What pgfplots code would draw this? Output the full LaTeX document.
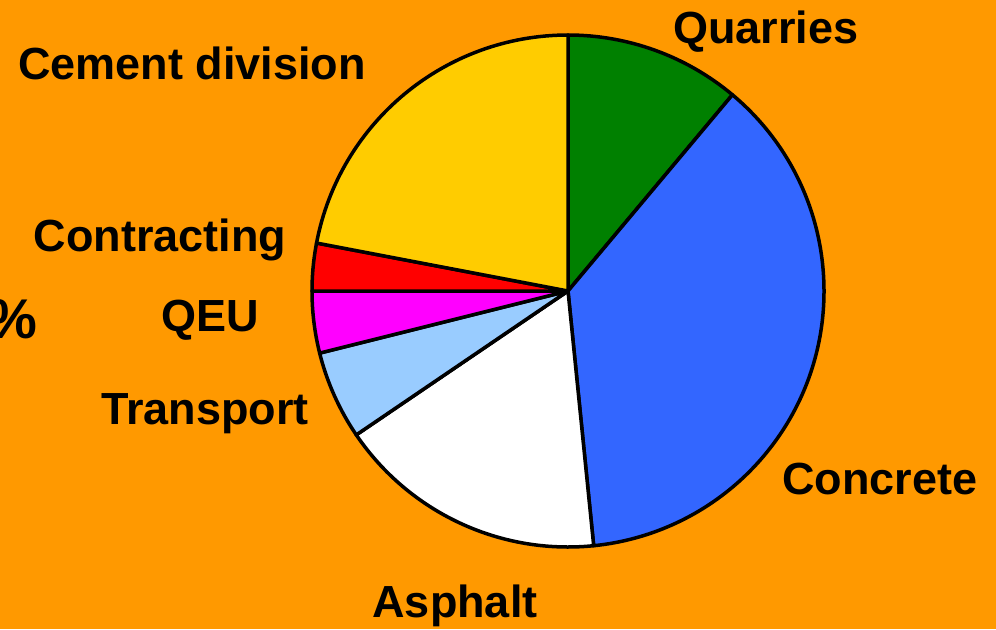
\documentclass[border=0pt]{standalone}
\usepackage{pgfplots}
\pgfplotsset{compat=1.18}
\usepackage{pgfplotstable}
\usepackage{fontspec}
\setmainfont{Liberation Sans}
\definecolor{bgor}{HTML}{FF9900}
\definecolor{cQ}{HTML}{008000}
\definecolor{cC}{HTML}{3366FF}
\definecolor{cA}{HTML}{FFFFFF}
\definecolor{cT}{HTML}{99CCFF}
\definecolor{cU}{HTML}{FF00FF}
\definecolor{cK}{HTML}{FF0000}
\definecolor{cD}{HTML}{FFCC00}
\pgfplotstableread{
name value color
Quarries 11.1 cQ
Concrete 37.3 cC
Asphalt 17.1 cA
Transport 5.6 cT
QEU 3.9 cU
Contracting 3.0 cK
Cement 22.0 cD
}\piedata
\begin{document}
\begin{tikzpicture}
\useasboundingbox (0,0) rectangle (498pt,314.5pt);
\fill[bgor] (0,0) rectangle (498pt,314.5pt);
\begin{axis}[at={(0,0)}, anchor=south west, scale only axis,
  width=498pt, height=314.5pt, xmin=0, xmax=996, ymin=0, ymax=629,
  y dir=reverse, hide axis, clip=false]
\pgfplotstablegetrowsof{\piedata}
\pgfmathtruncatemacro\nrows{\pgfplotsretval-1}
\gdef\angstart{90}
\foreach \i in {0,...,\nrows}{
  \pgfplotstablegetelem{\i}{value}\of\piedata \let\val\pgfplotsretval
  \pgfplotstablegetelem{\i}{color}\of\piedata \let\col\pgfplotsretval
  \pgfmathsetmacro\angend{\angstart-3.6*\val}
  \edef\tmp{\noexpand\filldraw[fill=\col,draw=black,line width=1.75pt,line join=round] (axis cs:568,291) -- ++(\angstart:128pt) arc[start angle=\angstart,end angle=\angend,radius=128pt] -- cycle;}
  \tmp
  \xdef\angstart{\angend}
}
\begin{scope}[every node/.style={font=\bfseries\fontsize{22.5}{27}\selectfont, inner sep=0pt}]
\node at (axis cs:766,32) {Quarries};
\node at (axis cs:192,63) {Cement division};
\node at (axis cs:160,240) {Contracting};
\node at (axis cs:210,320) {QEU};
\node at (axis cs:205,414) {Transport};
\node at (axis cs:880,479) {Concrete};
\node at (axis cs:455,606) {Asphalt};
\node[anchor=east, font=\bfseries\fontsize{28}{32}\selectfont] at (axis cs:38,319) {\%};
\end{scope}
\end{axis}
\end{tikzpicture}
\end{document}
